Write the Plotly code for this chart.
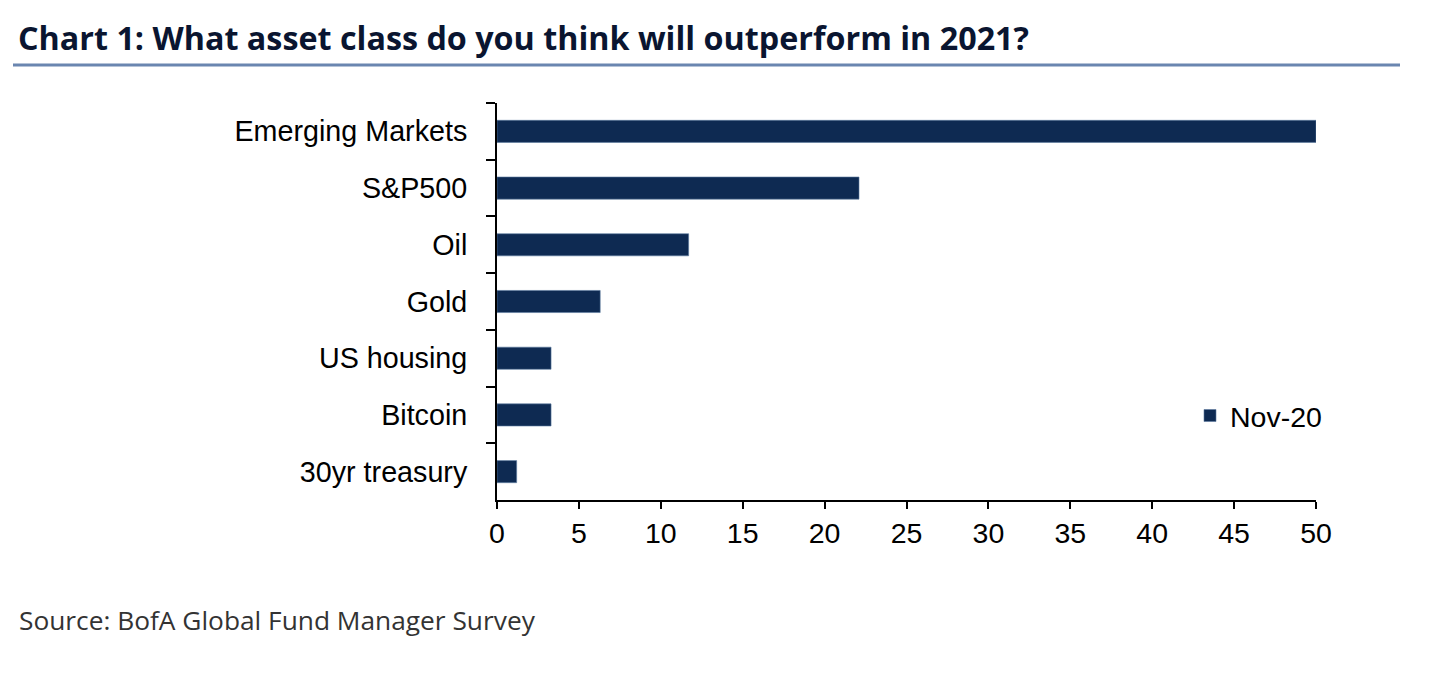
import plotly.graph_objects as go

categories = ["Emerging Markets", "S&P500", "Oil", "Gold", "US housing", "Bitcoin", "30yr treasury"]
values = [50, 22.1, 11.7, 6.3, 3.3, 3.3, 1.2]
series_name = "Nov-20"
x_ticks = [0, 5, 10, 15, 20, 25, 30, 35, 40, 45, 50]

OFF = 8  # page body margin
W, H = 1438 - OFF, 679 - OFF
L, R, T, B = 497 - OFF, 1316 - OFF, 103 - OFF, 500 - OFF
pw, ph = R - L, B - T

def px_x(p):
    return (p - OFF - L) / pw

def px_y(p):
    return (B - (p - OFF)) / ph

fig = go.Figure()
fig.add_trace(go.Bar(
    y=categories, x=values, orientation="h", name=series_name,
    marker=dict(color="#0e2a52", line=dict(color="#5a7aa0", width=0.6)),
    showlegend=True,
))

fig.update_layout(
    width=W, height=H,
    margin=dict(l=L, r=W - R, t=T, b=H - B, pad=0),
    paper_bgcolor="white", plot_bgcolor="white",
    bargap=0.61,
    font=dict(family="Liberation Sans, Arial", size=28.7, color="black"),
    title=dict(
        text="<b>Chart 1: What asset class do you think will outperform in 2021?</b>",
        font=dict(family="Open Sans", size=32.3, color="#0a1530"),
        x=(18 - OFF) / W, xref="container", xanchor="left",
        y=1 - (39 - OFF) / H, yref="container", yanchor="middle",
    ),
    xaxis=dict(
        range=[0, 50], tickvals=x_ticks, ticks="outside", ticklen=7, tickwidth=2,
        tickcolor="black", showline=True, linecolor="black", linewidth=2,
        showgrid=False, zeroline=False, tickfont=dict(size=28.5),
    ),
    yaxis=dict(
        autorange="reversed", ticks="outside", tickson="boundaries", ticklen=9,
        tickwidth=2, tickcolor="black", showline=True, linecolor="black",
        linewidth=2, showgrid=False, tickfont=dict(size=28.7), ticklabelstandoff=22,
    ),
    legend=dict(
        x=px_x(1190), y=px_y(416), xanchor="left", yanchor="middle",
        bgcolor="rgba(0,0,0,0)", font=dict(size=28.5), itemwidth=30,
    ),
    showlegend=True,
)

fig.add_shape(type="line", xref="paper", yref="paper",
              x0=px_x(13), x1=px_x(1400), y0=px_y(65), y1=px_y(65),
              line=dict(color="#6a86b0", width=3))

fig.add_annotation(
    text="Source: BofA Global Fund Manager Survey", xref="paper", yref="paper",
    x=px_x(17), y=px_y(620), xanchor="left", yanchor="middle", showarrow=False,
    font=dict(family="Open Sans", size=26.3, color="#333333"),
)

fig.write_html("out.html")
